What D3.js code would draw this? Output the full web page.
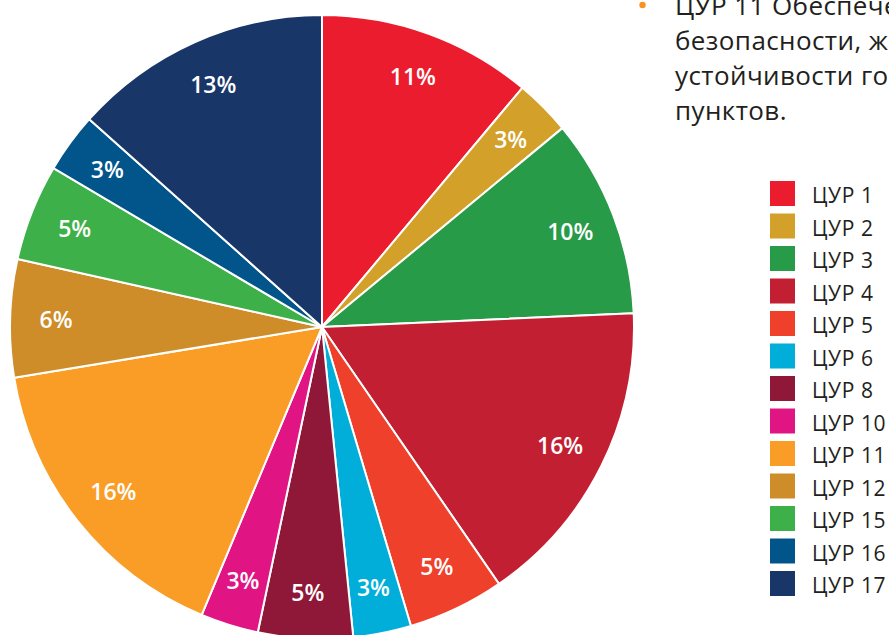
<!DOCTYPE html>
<html lang="ru">
<head>
<meta charset="utf-8">
<script src="https://cdn.jsdelivr.net/npm/d3@7"></script>
<style>
  html, body { margin: 0; padding: 0; background: #ffffff; overflow: hidden; }
  svg { display: block; font-family: "Open Sans", "Noto Sans", sans-serif; }
</style>
</head>
<body>
<svg id="chart" width="889" height="635"></svg>
<script>
// ---- data ----
const categories = ["ЦУР 1", "ЦУР 2", "ЦУР 3", "ЦУР 4", "ЦУР 5", "ЦУР 6", "ЦУР 8",
                    "ЦУР 10", "ЦУР 11", "ЦУР 12", "ЦУР 15", "ЦУР 16", "ЦУР 17"];
const shares = [11.1, 2.9, 10.3, 16.1, 5.0, 3.0, 4.9, 3.0, 16.1, 6.1, 5.0, 3.1, 13.4];
const colors = ["#EB1C2D", "#D3A029", "#279B48", "#C31F33", "#EF402B", "#00AED9", "#8F1838",
                "#E11484", "#F99D26", "#CF8D2A", "#3EB049", "#02558B", "#183668"];
const noteLines = ["ЦУР 11 Обеспечение открытости,",
                   "безопасности, жизнестойкости и экологической",
                   "устойчивости городов и населенных",
                   "пунктов."];

// ---- layout ----
const svg = d3.select("#chart");
const cx = 322, cy = 327, R = 312, labelR = 266;
const total = d3.sum(shares);
const pct = d3.format(".0%");

const rows = categories.map((c, i) => ({ cat: c, value: shares[i], color: colors[i] }));

const pie = d3.pie().sort(null).value(d => d.value);
const arc = d3.arc().innerRadius(0).outerRadius(R);
const labelArc = d3.arc().innerRadius(labelR).outerRadius(labelR);

const g = svg.append("g").attr("transform", `translate(${cx},${cy})`);
const arcs = pie(rows);

g.selectAll("path.slice")
  .data(arcs)
  .join("path")
  .attr("class", "slice")
  .attr("d", arc)
  .attr("fill", d => d.data.color)
  .attr("stroke", "#ffffff")
  .attr("stroke-width", 2)
  .attr("stroke-linejoin", "round");

g.selectAll("text.lbl")
  .data(arcs)
  .join("text")
  .attr("class", "lbl")
  .attr("transform", d => `translate(${labelArc.centroid(d)})`)
  .attr("text-anchor", "middle")
  .attr("dy", "0.36em")
  .attr("fill", "#ffffff")
  .attr("font-size", 23)
  .attr("font-weight", 600)
  .text(d => pct(d.data.value / total));

// ---- note text (top right) ----
const note = svg.append("g");
note.append("circle").attr("cx", 642.5).attr("cy", 5).attr("r", 3.2).attr("fill", "#F7941D");
note.selectAll("text")
  .data(noteLines)
  .join("text")
  .attr("x", 675)
  .attr("y", (d, i) => 15 + i * 35)
  .attr("font-size", 26)
  .attr("letter-spacing", 0.4)
  .attr("fill", "#231F20")
  .text(d => d);

// ---- legend ----
const legendY = d3.scalePoint().domain(categories).range([181, 571]);
const legend = svg.append("g");
const items = legend.selectAll("g")
  .data(rows)
  .join("g")
  .attr("transform", d => `translate(770,${legendY(d.cat)})`);
items.append("rect")
  .attr("width", 25).attr("height", 25)
  .attr("fill", d => d.color);
items.append("text")
  .attr("x", 42).attr("y", 22)
  .attr("font-size", 21)
  .attr("letter-spacing", 0.6)
  .attr("fill", "#231F20")
  .text(d => d.cat);
</script>
</body>
</html>
